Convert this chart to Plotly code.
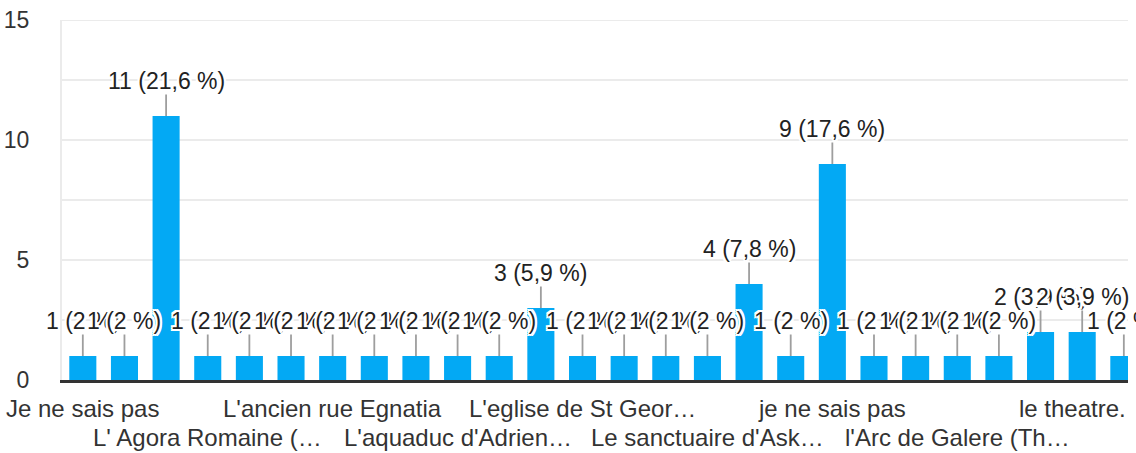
import plotly.graph_objects as go

# ---- data ----
counts = [1, 1, 11, 1, 1, 1, 1, 1, 1, 1, 1, 3, 1, 1, 1, 1, 4, 1, 9, 1, 1, 1, 1, 2, 2, 1]
total_responses = 51
tick_positions = [0, 3, 6, 9, 12, 15, 18, 21, 24]
tick_labels = [
    "Je ne sais pas",
    "L' Agora Romaine (…",
    "L'ancien rue Egnatia",
    "L'aquaduc d'Adrien…",
    "L'eglise de St Geor…",
    "Le sanctuaire d'Ask…",
    "je ne sais pas",
    "l'Arc de Galere (Th…",
    "le theatre.",
]
y_ticks = [0, 5, 10, 15]

FONT = "Liberation Sans, Arial, Helvetica, sans-serif"
BAR_COLOR = "#03A9F4"
GRID = "#ebebeb"
HALO = ", ".join(
    f"{dx}px {dy}px 0 #fff"
    for dx, dy in [(-2, -2), (2, -2), (-2, 2), (2, 2), (0, 2), (0, -2), (2, 0), (-2, 0),
                   (-1, -1), (1, 1), (1, -1), (-1, 1)]
)


def pct_text(c):
    p = round(c / total_responses * 100, 1)
    s = f"{p:.1f}"
    if s.endswith(".0"):
        s = s[:-2]
    return f"{c} ({s.replace('.', ',')} %)"


x_idx = list(range(len(counts)))

fig = go.Figure(
    go.Bar(x=x_idx, y=counts, marker=dict(color=BAR_COLOR, line=dict(width=0)),
           hoverinfo="skip")
)

annotations = []
for i, c in zip(x_idx, counts):
    annotations.append(dict(
        x=i, y=c, xref="x", yref="y", text=pct_text(c),
        showarrow=True, arrowhead=0, arrowwidth=1.8, arrowcolor="#9e9e9e",
        ax=0, ay=-35, standoff=0,
        font=dict(family=FONT, size=23, color="#222222", shadow=HALO),
        bgcolor="rgba(0,0,0,0)", borderpad=0,
    ))

for k, (pos, lab) in enumerate(zip(tick_positions, tick_labels)):
    row = k % 2
    annotations.append(dict(
        x=pos, y=0, xref="x", yref="paper", text=lab, showarrow=False,
        xanchor="center", yanchor="middle",
        yshift=-28 if row == 0 else -57,
        xshift=-10 if pos == tick_positions[-1] else 0,
        font=dict(family=FONT, size=24, color="#333333"),
    ))

fig.update_layout(
    width=1136, height=453,
    margin=dict(l=62, r=8, t=20, b=73, autoexpand=False),
    plot_bgcolor="white", paper_bgcolor="white",
    showlegend=False, bargap=0.35,
    font=dict(family=FONT, color="#333333"),
    annotations=annotations,
    xaxis=dict(range=[-0.5, 25.1], showticklabels=False, showgrid=False,
               zeroline=False, showline=True, linecolor="#333333", linewidth=3,
               fixedrange=True, automargin=False),
    yaxis=dict(range=[0, 15], tickvals=y_ticks, ticktext=[str(v) for v in y_ticks],
               showgrid=True, gridcolor=GRID, gridwidth=2,
               minor=dict(dtick=2.5, showgrid=True, gridcolor=GRID, gridwidth=2),
               zeroline=False, showline=True, linecolor=GRID, linewidth=2,
               tickfont=dict(family=FONT, size=23, color="#333333"),
               ticklabelstandoff=26, ticks="", fixedrange=True, automargin=False),
)

# top gridline (plotly drops grid lines that sit exactly on the plot edge)
fig.add_shape(type="line", xref="paper", x0=0, x1=1, yref="y",
              y0=max(y_ticks), y1=max(y_ticks),
              line=dict(color=GRID, width=2), layer="below")

fig.write_html("out.html", config={"displayModeBar": False, "staticPlot": True},
               post_script="document.body.style.margin='0';")
